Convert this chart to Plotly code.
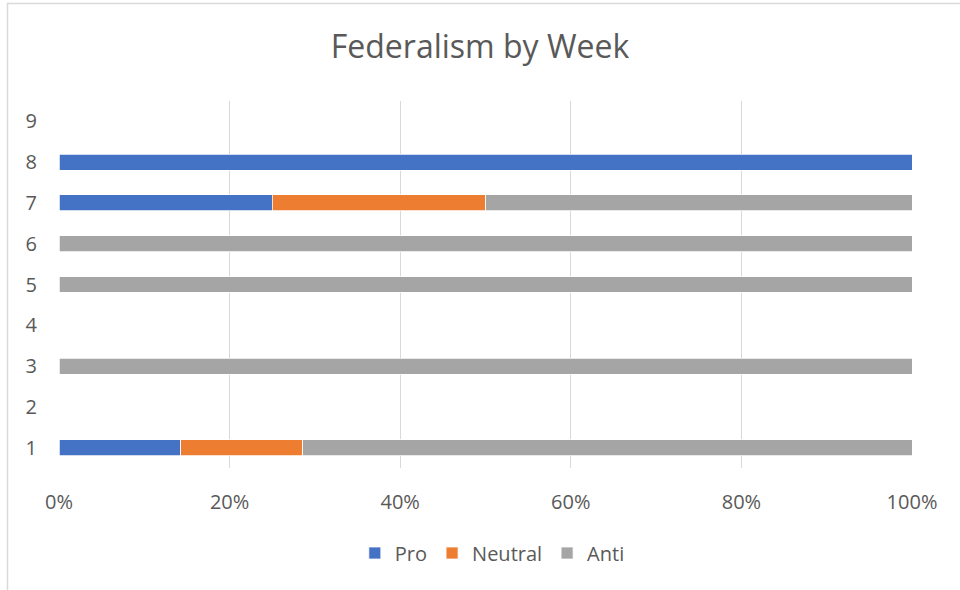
import plotly.graph_objects as go

weeks = [1, 2, 3, 4, 5, 6, 7, 8, 9]
pro = [14.3, None, None, None, None, None, 25, 100, None]
neutral = [14.3, None, None, None, None, None, 25, None, None]
anti = [71.4, None, 100, None, 100, 100, 50, None, None]
x_ticks = [0, 20, 40, 60, 80, 100]

series = [("Pro", pro, "#4472C4"), ("Neutral", neutral, "#ED7D31"), ("Anti", anti, "#A5A5A5")]

fig = go.Figure()
for name, vals, color in series:
    fig.add_trace(go.Bar(
        y=weeks, x=vals, name=name, orientation="h",
        marker=dict(color=color, line=dict(color="white", width=0.75)),
        width=0.39,
    ))

font_family = "Open Sans, Liberation Sans, sans-serif"
fig.update_layout(
    width=960, height=590,
    barmode="stack",
    paper_bgcolor="white", plot_bgcolor="white",
    margin=dict(l=59, r=48, t=101, b=122, autoexpand=False),
    font=dict(family=font_family, color="#595959", size=20),
    title=dict(text="Federalism by Week", x=0.5, xanchor="center", y=1 - 47/590, yanchor="middle",
               font=dict(size=32, color="#595959", family=font_family)),
    xaxis=dict(range=[0, 100], tickvals=x_ticks, ticktext=[f"{v}%" for v in x_ticks],
               showgrid=True, gridcolor="#d9d9d9", gridwidth=1, zeroline=False, showline=False,
               ticks="outside", ticklen=16, tickcolor="rgba(0,0,0,0)", fixedrange=True,
               tickfont=dict(size=20, color="#595959")),
    yaxis=dict(range=[0.5, 9.5], tickvals=weeks, showgrid=False, zeroline=False, showline=False,
               ticks="outside", ticklen=17, tickcolor="rgba(0,0,0,0)",
               tickfont=dict(size=20, color="#595959")),
    legend=dict(orientation="h", x=0.508, xanchor="center", y=(468 - 553) / 367, yanchor="middle",
                traceorder="normal", font=dict(size=20, color="#595959")),
    showlegend=True,
    shapes=[dict(type="rect", xref="paper", yref="paper",
                 x0=(7.5 - 59) / 853, x1=1.3, y0=-0.6, y1=(468 - 3.5) / 367,
                 line=dict(color="#d9d9d9", width=1.5), fillcolor="rgba(0,0,0,0)", layer="below")],
)

fig.write_html("out.html", config={"displayModeBar": False},
               post_script="document.body.style.margin='0';")
